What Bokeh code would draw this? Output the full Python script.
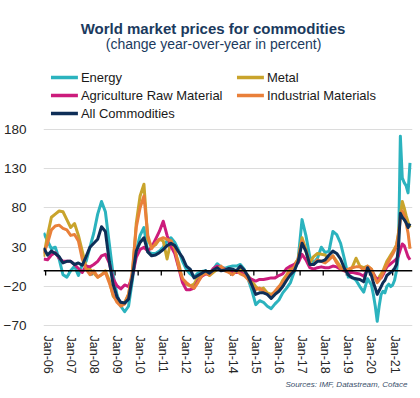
from bokeh.plotting import figure
from bokeh.layouts import column
from bokeh.models import Range1d, FixedTicker, Span, Title
from bokeh.core.properties import value
from bokeh.embed import file_html
from bokeh.resources import INLINE

# month index: 0 = Jan-06
months = list(range(-2, 168, 2)) + list(range(168, 189))

energy = [48, 38, 28, 30, 15, -5, -8, 0, 6, -6, 8, 12, 30, 48, 72, 88, 75, 35, -5, -30,
          -45, -52, -45, -12, 25, 45, 55, 24, 22, 22, 25, 30, 38, 42, 36, 26, 12, 2, -4, -8,
          -3, -1, 0, -3, 2, 9, 5, 3, 5, 6, 6, 8, 2, -10, -25, -43, -38, -40, -45, -48,
          -42, -37, -28, -22, -15, -1, 15, 65, 45, 18, 10, 16, 30, 23, 25, 50, 46, 35, 15, -8,
          -8, -12, -20, -27, -10,
          -18, -30, -45, -64, -45, -30, -26, -28, -20, -17, -20, -18, -12, 0, 20, 171, 118, 112, 108, 99, 137]

metal = [18, 45, 68, 72, 76, 75, 65, 55, 60, 45, 25, 5, 2, -3, -8, -5, 0, -12, -32, -38,
         -43, -40, -30, -5, 60, 95, 110, 40, 30, 33, 40, 38, 15, 38, 25, 10, -12, -17, -19, -17,
         -8, -3, -2, -6, -2, 2, 4, 2, 0, -2, -2, 2, -2, -6, -13, -20, -24, -22, -28, -30,
         -27, -22, -12, -5, 3, 8, 15, 42, 27, 10, 18, 22, 21, 20, 15, 19, 12, 5, 0, -2,
         4, 16, 6, 4, 6,
         2, -3, -8, -11, -8, -4, 0, 6, 12, 16, 20, 24, 28, 33, 48, 70, 88, 80, 70, 62, 55]

agriculture = [15, 14, 20, 23, 16, 12, 12, 12, 8, 3, -2, 6, 5, 8, 12, 19, 21, 10, -10, -19,
               -23, -18, -20, -7, 17, 27, 30, 25, 30, 40, 50, 63, 45, 31, 22, 4, -15, -24, -24, -22,
               -13, -7, -4, -4, 3, 6, 4, 2, 0, -2, -2, -2, -5, -8, -11, -13, -11, -11, -10, -9,
               -9, -6, -4, 3, 6, 8, 10, 21, 14, 4, 2, 4, 5, 4, 4, 6, 5, 2, 0, -2,
               -2, -3, -4, -7, 2,
               0, -4, -8, -11, -10, -9, -5, 0, 5, 7, 9, 11, 13, 15, 19, 27, 34, 32, 25, 18, 14]

industrial = [22, 35, 52, 57, 58, 54, 52, 45, 46, 38, 15, 2, -5, 0, -8, -5, -2, -15, -30, -40,
              -45, -42, -30, 0, 55, 80, 95, 45, 28, 35, 40, 42, 40, 38, 28, 5, -10, -15, -19, -22,
              -15, -6, -3, -5, 1, 2, 6, 0, -2, -5, 0, -4, -6, -11, -18, -24, -22, -26, -30, -32,
              -26, -20, -15, -7, 0, 5, 15, 38, 25, 8, 8, 14, 12, 10, 14, 19, 10, 3, 1, 2,
              4, 5, 5, 1, 6,
              2, -5, -10, -15, -12, -8, -3, 3, 8, 12, 17, 21, 26, 31, 45, 65, 76, 70, 60, 48, 28]

all_commodities = [29, 20, 25, 22, 18, 10, 12, 12, 8, 10, 7, 18, 30, 35, 40, 56, 50, 12, -17, -33,
                   -40, -41, -36, -8, 25, 36, 42, 24, 19, 20, 23, 27, 32, 35, 32, 24, 17, 6, 2, -9,
                   -6, -3, 0, -3, 1, 4, 0, 1, 3, 2, 0, 6, 1, -7, -18, -30, -28, -28, -30, -35,
                   -30, -26, -20, -12, -5, 0, 12, 35, 25, 8, 8, 12, 12, 14, 20, 25, 22, 15, 3, -5,
                   -9, -10, -11, -14, 4,
                   -6, -15, -22, -30, -25, -20, -15, -12, -6, -4, -2, 0, 3, 8, 30, 73, 68, 65, 61, 55, 60]

tick_months = list(range(0, 181, 12))
tick_labels = ["Jan-06", "Jan-07", "Jan-08", "Jan-09", "Jan-10", "Jan-11", "Jan-12", "Jan-13",
               "Jan-14", "Jan-15", "Jan-16", "Jan-17", "Jan-18", "Jan-19", "Jan-20", "Jan-21"]
y_ticks = [-70, -20, 30, 80, 130, 180]

series_names = ["Energy", "Metal", "Agriculture Raw Material", "Industrial Materials", "All Commodities"]
series_colors = ["#2BB3BE", "#C9A42C", "#CC1C7C", "#E9803A", "#0E2E57"]

title_text = "World market prices for commodities"
subtitle_text = "(change year-over-year in percent)"
source_text = "Sources: IMF, Datastream, Coface"

FONT = "Liberation Sans"
W = 416
HEADER_H = 122
MAIN_H = 274
BL, BR = 42, 4   # left / right borders shared by both figures

# ---------------- header: title, subtitle, legend ----------------
# x range chosen so that one data unit = one page pixel
h = figure(width=W, height=HEADER_H, x_range=Range1d(BL, W - BR), y_range=Range1d(HEADER_H, 0),
           x_axis_type=None, y_axis_type=None, output_backend="svg", toolbar_location=None,
           min_border_left=BL, min_border_right=BR, min_border_top=0, min_border_bottom=0)
h.outline_line_color = None
h.grid.visible = False

h.text(x=[212], y=[28], text=[title_text], text_align="center", text_baseline="middle",
       text_font=value(FONT), text_font_size="15px", text_font_style="bold", text_color="#1B3A5E")
h.text(x=[212.5], y=[43.5], text=[subtitle_text], text_align="center", text_baseline="middle",
       text_font=value(FONT), text_font_size="14px", text_color="#1B3A5E")

# legend layout: two columns, filled row by row
col_x = [49.5, 236.0]
row_y = [77.0, 95.0, 113.0]
sw_len = 27
lx0, lx1, ly, tx, ty, tl, tc = [], [], [], [], [], [], []
for i, (name, color) in enumerate(zip(series_names, series_colors)):
    cx = col_x[i % 2]
    ry = row_y[i // 2]
    lx0.append(cx); lx1.append(cx + sw_len); ly.append(ry)
    tx.append(cx + sw_len + 3); ty.append(ry); tl.append(name); tc.append(color)
h.segment(x0=lx0, y0=ly, x1=lx1, y1=ly, line_color=tc, line_width=3.5)
h.text(x=tx, y=ty, text=tl, text_align="left", text_baseline="middle",
       text_font=value(FONT), text_font_size="13px", text_color="#1a1a1a")

# ---------------- main chart ----------------
p = figure(width=W, height=MAIN_H, x_range=Range1d(-2.1, 189.3), y_range=Range1d(-72, 182),
           output_backend="svg", toolbar_location=None,
           min_border_left=BL, min_border_right=BR, min_border_top=5, min_border_bottom=69)
p.outline_line_color = None

p.yaxis.ticker = FixedTicker(ticks=y_ticks)
p.yaxis.axis_line_color = None
p.yaxis.major_tick_line_color = None
p.yaxis.minor_tick_line_color = None
p.yaxis.major_label_standoff = 11
p.yaxis.major_label_text_font = FONT
p.yaxis.major_label_text_font_size = "13.5px"
p.yaxis.major_label_text_color = "#262626"

p.xaxis.ticker = FixedTicker(ticks=tick_months)
p.xaxis.major_label_overrides = {m: l for m, l in zip(tick_months, tick_labels)}
p.xaxis.major_label_orientation = "vertical"
p.xaxis.axis_line_color = None
p.xaxis.major_tick_line_color = None
p.xaxis.minor_tick_line_color = None
p.xaxis.major_label_standoff = 2
p.xaxis.major_label_text_font = FONT
p.xaxis.major_label_text_font_size = "12.5px"
p.xaxis.major_label_text_color = "#262626"

p.xgrid.visible = False
p.ygrid.grid_line_color = "#dcdcdc"
p.ygrid.grid_line_width = 1

p.add_layout(Span(location=0, dimension="width", line_color="black", line_width=1.5))
p.segment(x0=[m - 1 for m in tick_months], y0=[0] * len(tick_months),
          x1=[m - 1 for m in tick_months], y1=[-6] * len(tick_months),
          line_color="black", line_width=1.3)

for data, color in zip([energy, metal, agriculture, industrial, all_commodities], series_colors):
    p.line(months, data, line_color=color, line_width=3, line_join="round")

p.add_layout(Title(text=source_text, align="right", text_font=FONT, text_font_size="8px",
                   text_font_style="italic", text_color="#3B4F6B", standoff=2, offset=5), "below")

layout = column(h, p, spacing=0)
open("out.html", "w").write(file_html(layout, INLINE))
